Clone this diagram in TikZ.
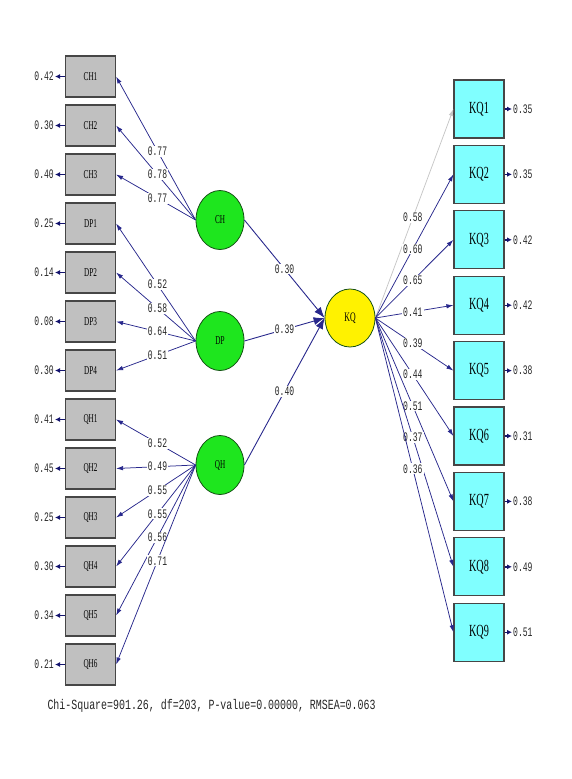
\documentclass[tikz,border=0pt]{standalone}
\usepackage{fontspec}
\usepackage{xcolor}
\usepackage{tikz}
\usetikzlibrary{arrows.meta,shapes.geometric}
\newfontfamily\lblfont[FakeStretch=0.62]{Liberation Mono}
\newfontfamily\statfont[FakeStretch=0.71]{Liberation Mono}
\newfontfamily\boxfont[FakeStretch=0.6]{Liberation Serif}
\definecolor{pathblue}{RGB}{40, 40, 140}
\definecolor{headblue}{RGB}{20, 20, 110}
\definecolor{obsgray}{RGB}{192, 192, 192}
\definecolor{boxedge}{RGB}{70, 70, 70}
\definecolor{kqcyan}{RGB}{128, 255, 255}
\definecolor{latgreen}{RGB}{30, 230, 30}
\definecolor{latedge}{RGB}{20, 80, 20}

\begin{document}
\begin{tikzpicture}[x=1pt, y=-1pt,
  obs/.style={draw=boxedge, line width=1.2pt, fill=obsgray, minimum width=50pt, minimum height=41pt, inner sep=0pt, font=\boxfont\fontsize{12}{12}\selectfont},
  ind/.style={obs, fill=kqcyan, minimum height=58pt, font=\boxfont\fontsize{17}{17}\selectfont},
  lat/.style={ellipse, draw=latedge, line width=0.8pt, fill=latgreen, minimum width=48pt, minimum height=59pt, inner sep=0pt, font=\boxfont\fontsize{12}{12}\selectfont},
  val/.style={font=\lblfont\fontsize{13}{13}\selectfont, text=black!85, inner sep=1pt},
  loadlbl/.style={val, fill=white, pos=0.48},
  loadarrow/.style={-{Latex[length=7pt,width=4.5pt]}, draw=pathblue, line width=0.75pt},
  structarrow/.style={-{Latex[length=11pt,width=8pt]}, draw=pathblue, line width=0.9pt},
  errarrow/.style={-{Latex[length=5pt,width=5pt]}, draw=headblue, line width=1.4pt}]
  \useasboundingbox (0,0) rectangle (572,779);

  % Latent variables
  \node[lat] (CH) at (220,220) {CH};
  \node[lat] (DP) at (220,341) {DP};
  \node[lat] (QH) at (220,465) {QH};
  \node[lat, fill=yellow, minimum width=50pt, minimum height=58pt, font=\boxfont\fontsize{13}{13}\selectfont] (KQ) at (350,318) {KQ};

  % Observed variables, left
  \foreach \n/\y/\e in {CH1/76.5/0.42, CH2/125.5/0.30, CH3/174.5/0.40, DP1/223.5/0.25, DP2/272.5/0.14,
      DP3/321.5/0.08, DP4/370.5/0.30, QH1/419.5/0.41, QH2/468.5/0.45, QH3/517.5/0.25, QH4/566.5/0.30,
      QH5/615.5/0.34, QH6/664.5/0.21} {
    \node[obs] (\n) at (90.5,\y) {\n};
    \node[val, anchor=east] (e\n) at (55,\y) {\e};
    \draw[errarrow] (\n.west) -- (e\n.east);
  }

  % Observed variables, right
  \foreach \n/\y/\e in {KQ1/109/0.35, KQ2/174.4/0.35, KQ3/239.8/0.42, KQ4/305.2/0.42, KQ5/370.6/0.38,
      KQ6/436/0.31, KQ7/501.4/0.38, KQ8/566.8/0.49, KQ9/632.2/0.51} {
    \node[ind] (\n) at (479,\y) {\n};
    \node[val, anchor=west] (e\n) at (512,\y) {\e};
    \draw[errarrow] (\n.east) -- (e\n.west);
  }

  % Loadings
  \foreach \n/\l in {CH1/0.77, CH2/0.78, CH3/0.77}
    \draw[loadarrow] (CH.west) -- node[loadlbl] {\l} (\n.east);
  \foreach \n/\l in {DP1/0.52, DP2/0.58, DP3/0.64, DP4/0.51}
    \draw[loadarrow] (DP.west) -- node[loadlbl] {\l} (\n.east);
  \foreach \n/\l in {QH1/0.52, QH2/0.49, QH3/0.55, QH4/0.55, QH5/0.56, QH6/0.71}
    \draw[loadarrow] (QH.west) -- node[loadlbl] {\l} (\n.east);
  \draw[loadarrow, draw=gray!45] (KQ.east) -- node[loadlbl] {0.58} (KQ1.west);
  \foreach \n/\l in {KQ2/0.60, KQ3/0.65, KQ4/0.41, KQ5/0.39, KQ6/0.44, KQ7/0.51, KQ8/0.37, KQ9/0.36}
    \draw[loadarrow] (KQ.east) -- node[loadlbl] {\l} (\n.west);

  % Structural paths
  \draw[structarrow] (CH.east) -- node[loadlbl, pos=0.5] {0.30} (KQ.west);
  \draw[structarrow] (DP.east) -- node[loadlbl, pos=0.5] {0.39} (KQ.west);
  \draw[structarrow] (QH.east) -- node[loadlbl, pos=0.5] {0.40} (KQ.west);

  \node[anchor=west, font=\statfont\fontsize{14}{14}\selectfont, text=black!85] (fit) at (44,706)
    {Chi-Square=901.26, df=203, P-value=0.00000, RMSEA=0.063};
\end{tikzpicture}
\end{document}
